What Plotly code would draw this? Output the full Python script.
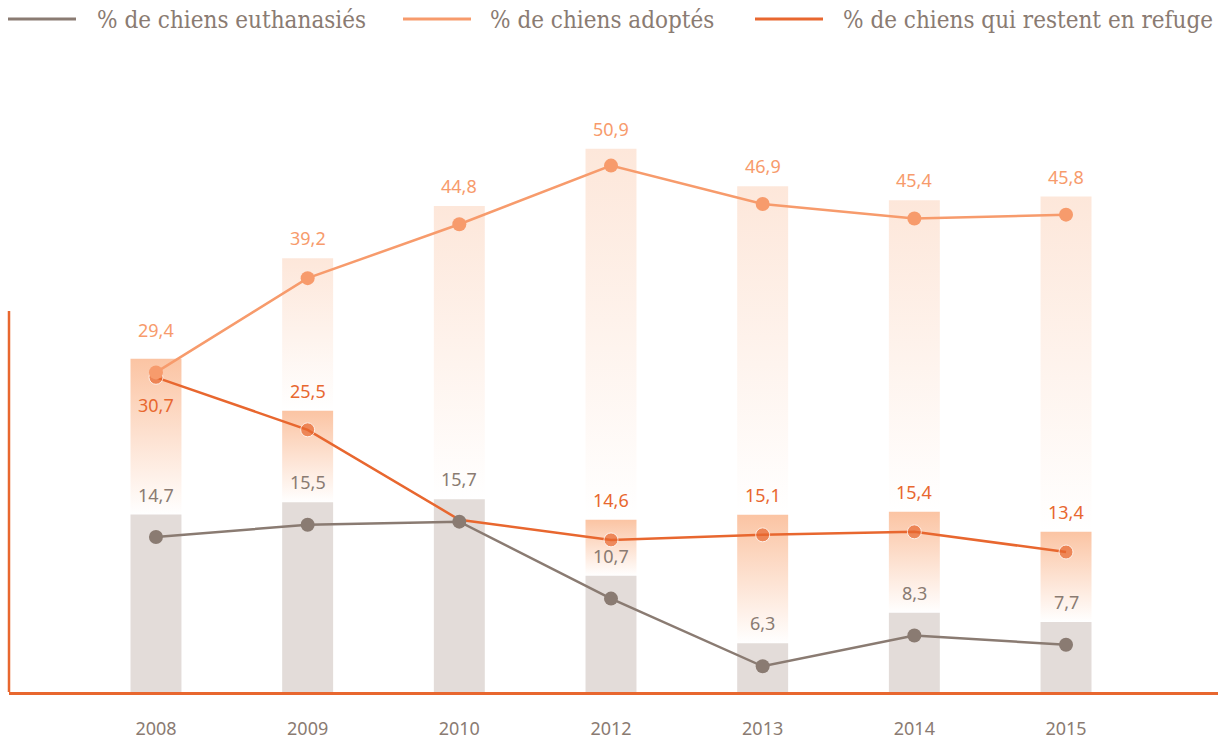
import plotly.graph_objects as go

# ---------------- data ----------------
years = ["2008", "2009", "2010", "2012", "2013", "2014", "2015"]
euthanasies = [14.7, 15.5, 15.7, 10.7, 6.3, 8.3, 7.7]
adoptes = [29.4, 39.2, 44.8, 50.9, 46.9, 45.4, 45.8]
refuge = [30.7, 25.5, None, 14.6, 15.1, 15.4, 13.4]
# the refuge line has an unlabelled vertex in 2010 (no published value)
refuge_line_2010 = 16.6
legend_labels = ["% de chiens euthanasiés", "% de chiens adoptés",
                 "% de chiens qui restent en refuge"]

# ---------------- styling / layout ----------------
W, H = 1231, 742
BODY = 0                      # page margin removed by the post script below
# plot area in screen pixels: x 9..1218, y 92..692
ML = 9 - BODY
MT = 92 - BODY
MR = W - (1218 - BODY)
MB = H - (692 - BODY)
PW, PH = W - ML - MR, H - MT - MB

GRAY = "#8a7b72"
GRAY_BAR = "#e3dcd9"
LIGHT = "#f79b6c"
LIGHT_BAR = "#fde7da"
DARK = "#e8672f"
DARK_BAR = "#fbc4a3"
FONT = "Noto Sans"
LEG_FONT = "DejaVu Serif Condensed"

R_AD_BAR = [-7.09, 56.96]
R_RE_BAR = [-2.63, 57.37]
R_EU_BAR = [3.13, 42.24]
R_RE_LINE = [-0.46, 58.95]
R_AD_LINE = [-3.82, 58.55]
R_EU_LINE = [4.63, 43.62]
X_RANGE = [-0.969, 7.002]
BAR_W = 0.336


def convert(v, src, dst):
    f = (v - src[0]) / (src[1] - src[0])
    return dst[0] + f * (dst[1] - dst[0])


def fmt(v):
    return f"{v:.1f}".replace(".", ",")


def px_x(px):   # screen px -> paper
    return (px - 9) / PW


def px_y(py):   # screen px -> paper
    return (692 - py) / PH


xs = list(range(len(years)))
fig = go.Figure()


def grad_bar(i, bottom, top, color, yaxis):
    h = BAR_W / 2
    fig.add_trace(go.Scatter(
        x=[i - h, i + h, i + h, i - h, i - h],
        y=[bottom, bottom, top, top, bottom],
        mode="lines", fill="toself", line=dict(width=0),
        fillgradient=dict(type="vertical",
                          colorscale=[[0, "rgb(255,255,255)"], [1, color]],
                          start=bottom, stop=top),
        hoverinfo="skip", showlegend=False, yaxis=yaxis))


# adopted bars (back layer, y) -- hidden where the refuge share is larger
for i in xs:
    if refuge[i] is not None:
        if refuge[i] > adoptes[i]:
            continue
        lower = convert(refuge[i], R_RE_BAR, R_AD_BAR)
    else:
        lower = convert(euthanasies[i], R_EU_BAR, R_AD_BAR)
    if adoptes[i] > lower:
        grad_bar(i, lower, adoptes[i], LIGHT_BAR, "y")

# refuge bars (y2)
for i in xs:
    if refuge[i] is not None:
        lower = convert(euthanasies[i], R_EU_BAR, R_RE_BAR)
        grad_bar(i, lower, refuge[i], DARK_BAR, "y2")

# euthanasia bars (y3)
fig.add_trace(go.Bar(x=xs, y=euthanasies, width=BAR_W, yaxis="y3",
                     marker=dict(color=GRAY_BAR, line=dict(width=0)),
                     hoverinfo="skip", showlegend=False))

# lines
ref_y = [v if v is not None else refuge_line_2010 for v in refuge]
ref_sz = [14 if v is not None else 0 for v in refuge]
fig.add_trace(go.Scatter(x=xs, y=ref_y, mode="lines+markers", yaxis="y4",
                         line=dict(color=DARK, width=2.5),
                         marker=dict(size=ref_sz, color=DARK),
                         name=legend_labels[2], showlegend=False))
fig.add_trace(go.Scatter(x=xs, y=adoptes, mode="lines+markers", yaxis="y5",
                         line=dict(color=LIGHT, width=2.5),
                         marker=dict(size=14, color=LIGHT),
                         name=legend_labels[1], showlegend=False))
fig.add_trace(go.Scatter(x=xs, y=euthanasies, mode="lines+markers", yaxis="y6",
                         line=dict(color=GRAY, width=2.5),
                         marker=dict(size=14, color=GRAY),
                         name=legend_labels[0], showlegend=False))

# value labels
ann = []
for i in xs:
    ann.append(dict(x=i, y=euthanasies[i], yref="y3", text=fmt(euthanasies[i]),
                    showarrow=False, yanchor="middle", yshift=20,
                    font=dict(family=FONT, size=18, color=GRAY)))
    ann.append(dict(x=i, y=adoptes[i], yref="y", text=fmt(adoptes[i]),
                    showarrow=False, yanchor="middle", yshift=20,
                    font=dict(family=FONT, size=18, color=LIGHT)))
    if refuge[i] is not None:
        if refuge[i] > adoptes[i]:
            # label goes under the point when it would clash with the adopted label
            ann.append(dict(x=i, y=refuge[i], yref="y4", text=fmt(refuge[i]),
                            showarrow=False, yanchor="middle", yshift=-28,
                            font=dict(family=FONT, size=18, color=DARK)))
        else:
            ann.append(dict(x=i, y=refuge[i], yref="y2", text=fmt(refuge[i]),
                            showarrow=False, yanchor="middle", yshift=20,
                            font=dict(family=FONT, size=18, color=DARK)))

# legend (manual)
shapes = []
leg_items = [(GRAY, 8, 76, 95), (LIGHT, 403, 471, 488), (DARK, 755, 823, 841)]
for (col, l0, l1, tx), lab in zip(leg_items, legend_labels):
    shapes.append(dict(type="line", xref="paper", yref="paper",
                       x0=px_x(l0), x1=px_x(l1), y0=px_y(19), y1=px_y(19),
                       line=dict(color=col, width=3)))
    ann.append(dict(xref="paper", yref="paper", x=px_x(tx), y=px_y(20),
                    xanchor="left", yanchor="middle", showarrow=False,
                    text=lab, font=dict(family=LEG_FONT, size=24, color=GRAY)))

# left axis stub
shapes.append(dict(type="line", xref="paper", yref="paper",
                   x0=px_x(9), x1=px_x(9), y0=0, y1=px_y(311),
                   line=dict(color=DARK, width=2.5)))

hidden = dict(visible=False, showgrid=False, zeroline=False, fixedrange=True)
fig.update_layout(
    width=W, height=H,
    margin=dict(l=ML, r=MR, t=MT, b=MB, pad=0, autoexpand=False),
    paper_bgcolor="white", plot_bgcolor="white",
    showlegend=False,
    xaxis=dict(range=X_RANGE, tickvals=xs, ticktext=years, showgrid=False,
               zeroline=False, showline=True, linecolor=DARK, linewidth=2.5,
               ticks="outside", ticklen=19, tickcolor="rgba(0,0,0,0)",
               automargin=False,
               tickfont=dict(family=FONT, size=18, color=GRAY), fixedrange=True),
    yaxis=dict(range=R_AD_BAR, automargin=False, **hidden),
    yaxis2=dict(range=R_RE_BAR, overlaying="y", **hidden),
    yaxis3=dict(range=R_EU_BAR, overlaying="y", **hidden),
    yaxis4=dict(range=R_RE_LINE, overlaying="y", **hidden),
    yaxis5=dict(range=R_AD_LINE, overlaying="y", **hidden),
    yaxis6=dict(range=R_EU_LINE, overlaying="y", **hidden),
    annotations=ann,
    shapes=shapes,
)

fig.write_html("out.html",
               config={"displayModeBar": False},
               post_script="document.body.style.margin='0';"
                           "document.body.style.overflow='hidden';")
